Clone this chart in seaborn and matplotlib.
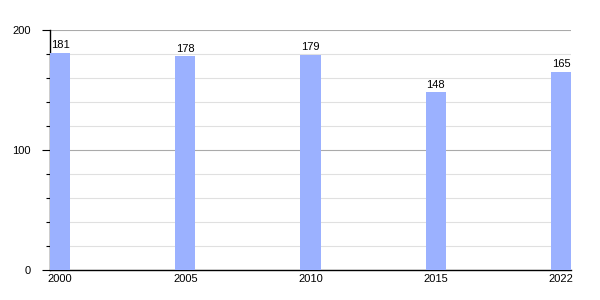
import matplotlib
matplotlib.use("Agg")
import matplotlib.pyplot as plt
import seaborn as sns
import pandas as pd
from matplotlib.ticker import MultipleLocator

years = ["2000", "2005", "2010", "2015", "2022"]
values = [181, 178, 179, 148, 165]

sns.set_style("white")
plt.rcParams['font.family'] = ['Liberation Sans', 'DejaVu Sans']
plt.rcParams['text.color'] = 'black'
plt.rcParams['xtick.color'] = 'black'
plt.rcParams['ytick.color'] = 'black'

df = pd.DataFrame({"year": years, "value": values})

fig = plt.figure(figsize=(6, 3), dpi=100)
ax = fig.add_axes([50/600, 30/300, 521/600, 240/300])

sns.barplot(data=df, x="year", y="value", color="#9bb1ff", width=0.16,
            saturation=1, ax=ax, zorder=3, linewidth=0, edgecolor="none")

ax.set_xlim(-0.08, 4.08)
ax.set_ylim(0, 200)
ax.yaxis.set_major_locator(MultipleLocator(100))
ax.yaxis.set_minor_locator(MultipleLocator(20))
ax.grid(which="major", axis="y", color="#aaaaaa", linewidth=0.8, zorder=0)
ax.grid(which="minor", axis="y", color="#e0e0e0", linewidth=0.8, zorder=0)
ax.set_axisbelow(True)

for s in ["top", "right"]:
    ax.spines[s].set_visible(False)
for s in ["left", "bottom"]:
    ax.spines[s].set_color("black")
    ax.spines[s].set_linewidth(1.0)

ax.tick_params(axis="y", which="major", length=6, width=0.8, color="black",
               labelsize=8, pad=8, direction="out", left=True, labelcolor="black")
ax.tick_params(axis="y", which="minor", length=3, width=0.8, color="black",
               direction="out", left=True)
ax.tick_params(axis="x", length=0, labelsize=8, pad=3, labelcolor="black")

ax.set_xlabel("")
ax.set_ylabel("")

for i, v in enumerate(values):
    ax.annotate(str(v), (i, v), xytext=(0, 2), textcoords="offset points",
                ha="center", va="bottom", fontsize=8, color="black")

fig.savefig("out.png", dpi=100)
